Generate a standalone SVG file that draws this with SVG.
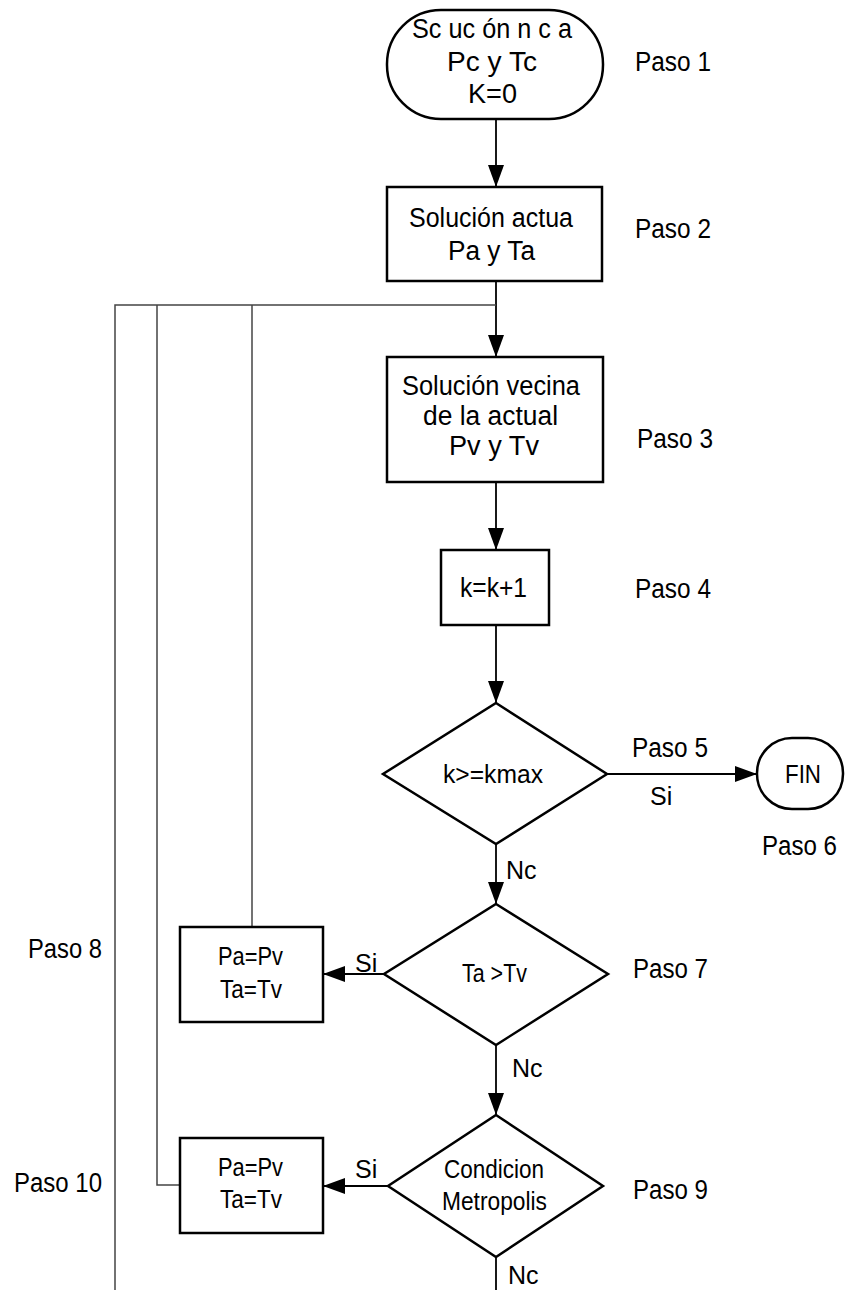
<svg xmlns="http://www.w3.org/2000/svg" width="845" height="1290" viewBox="0 0 845 1290">
<style>
.shape{fill:#fff;stroke:#000;stroke-width:2.5}
.t{font-family:"Liberation Sans",Arial,sans-serif;fill:#000}
.lbl{font-size:27px}
.n27{font-size:27px}
.n25{font-size:25px}
.conn{fill:none;stroke:#000;stroke-width:1.8}
.loop{fill:none;stroke:#444;stroke-width:1.5}
</style>
<defs>
<marker id="ah" markerUnits="userSpaceOnUse" markerWidth="22" markerHeight="16" refX="22" refY="8" orient="auto">
<path d="M0,0 L22,8 L0,16 z" fill="#000"/>
</marker>
</defs>
<rect width="845" height="1290" fill="#fff"/>
<g id="connectors">
<path class="conn" d="M496,119 V187" marker-end="url(#ah)"/>
<path class="conn" d="M496,281 V357" marker-end="url(#ah)"/>
<path class="loop" d="M496,305 H115 V1290"/>
<path class="loop" d="M157,305 V1185 H180"/>
<path class="loop" d="M252,305 V927"/>
<path class="conn" d="M496,482 V550" marker-end="url(#ah)"/>
<path class="conn" d="M496,625 V703" marker-end="url(#ah)"/>
<path class="conn" d="M607,774 H757" marker-end="url(#ah)"/>
<path class="conn" d="M496,844 V904" marker-end="url(#ah)"/>
<path class="conn" d="M384,974 H323" marker-end="url(#ah)"/>
<path class="conn" d="M496,1045 V1115" marker-end="url(#ah)"/>
<path class="conn" d="M388,1186 H323" marker-end="url(#ah)"/>
<path class="conn" d="M496,1257 V1290"/>
<text class="t lbl" x="632" y="757" textLength="76" lengthAdjust="spacingAndGlyphs">Paso 5</text>
<text class="t n25" x="650" y="805">Si</text>
<text class="t n25" x="506" y="879">Nc</text>
<text class="t n25" x="355" y="972">Si</text>
<text class="t n25" x="512" y="1077">Nc</text>
<text class="t n25" x="355" y="1178">Si</text>
<text class="t n25" x="508" y="1284">Nc</text>
</g>
<g id="paso1">
<rect class="shape" x="387" y="10" width="216" height="109" rx="54" ry="54"/>
<text class="t n27" x="412" y="38" textLength="160" lengthAdjust="spacingAndGlyphs">Sc uc ón n c a</text>
<text class="t n27" x="447" y="71" textLength="90" lengthAdjust="spacingAndGlyphs">Pc y Tc</text>
<text class="t n27" x="468" y="103" textLength="49" lengthAdjust="spacingAndGlyphs">K=0</text>
<text class="t lbl" x="635" y="71" textLength="76" lengthAdjust="spacingAndGlyphs">Paso 1</text>
</g>
<g id="paso2">
<rect class="shape" x="387" y="187" width="215" height="94"/>
<text class="t n27" x="409" y="227" textLength="164" lengthAdjust="spacingAndGlyphs">Solución actua</text>
<text class="t n27" x="448" y="260" textLength="87" lengthAdjust="spacingAndGlyphs">Pa y Ta</text>
<text class="t lbl" x="635" y="238" textLength="76" lengthAdjust="spacingAndGlyphs">Paso 2</text>
</g>
<g id="paso3">
<rect class="shape" x="387" y="357" width="216" height="125"/>
<text class="t n27" x="402" y="395" textLength="178" lengthAdjust="spacingAndGlyphs">Solución vecina</text>
<text class="t n27" x="423" y="425" textLength="135" lengthAdjust="spacingAndGlyphs">de la actual</text>
<text class="t n27" x="449" y="455" textLength="90" lengthAdjust="spacingAndGlyphs">Pv y Tv</text>
<text class="t lbl" x="637" y="448" textLength="76" lengthAdjust="spacingAndGlyphs">Paso 3</text>
</g>
<g id="paso4">
<rect class="shape" x="441" y="550" width="108" height="75"/>
<text class="t n27" x="460" y="597" textLength="67" lengthAdjust="spacingAndGlyphs">k=k+1</text>
<text class="t lbl" x="635" y="598" textLength="76" lengthAdjust="spacingAndGlyphs">Paso 4</text>
</g>
<g id="paso5">
<polygon class="shape" points="496,703 607,774 496,844 383,774"/>
<text class="t n25" x="443" y="783" textLength="100" lengthAdjust="spacingAndGlyphs">k&gt;=kmax</text>
</g>
<g id="paso6">
<rect class="shape" x="757" y="738" width="86" height="71" rx="35" ry="35"/>
<text class="t n25" x="785" y="783" textLength="36" lengthAdjust="spacingAndGlyphs">FIN</text>
<text class="t lbl" x="762" y="855" textLength="75" lengthAdjust="spacingAndGlyphs">Paso 6</text>
</g>
<g id="paso7">
<polygon class="shape" points="496,904 608,974 496,1045 384,974"/>
<text class="t n25" x="462" y="982" textLength="65" lengthAdjust="spacingAndGlyphs">Ta &gt;Tv</text>
<text class="t lbl" x="633" y="978" textLength="75" lengthAdjust="spacingAndGlyphs">Paso 7</text>
</g>
<g id="paso8">
<rect class="shape" x="180" y="927" width="143" height="95"/>
<text class="t n25" x="218" y="965" textLength="65" lengthAdjust="spacingAndGlyphs">Pa=Pv</text>
<text class="t n25" x="220" y="998" textLength="62" lengthAdjust="spacingAndGlyphs">Ta=Tv</text>
<text class="t lbl" x="28" y="958" textLength="74" lengthAdjust="spacingAndGlyphs">Paso 8</text>
</g>
<g id="paso9">
<polygon class="shape" points="496,1115 603,1186 496,1257 388,1186"/>
<text class="t n25" x="444" y="1178" textLength="100" lengthAdjust="spacingAndGlyphs">Condicion</text>
<text class="t n25" x="442" y="1210" textLength="105" lengthAdjust="spacingAndGlyphs">Metropolis</text>
<text class="t lbl" x="633" y="1199" textLength="75" lengthAdjust="spacingAndGlyphs">Paso 9</text>
</g>
<g id="paso10">
<rect class="shape" x="180" y="1138" width="143" height="95"/>
<text class="t n25" x="218" y="1176" textLength="65" lengthAdjust="spacingAndGlyphs">Pa=Pv</text>
<text class="t n25" x="220" y="1208" textLength="62" lengthAdjust="spacingAndGlyphs">Ta=Tv</text>
<text class="t lbl" x="14" y="1192" textLength="88" lengthAdjust="spacingAndGlyphs">Paso 10</text>
</g>
</svg>
